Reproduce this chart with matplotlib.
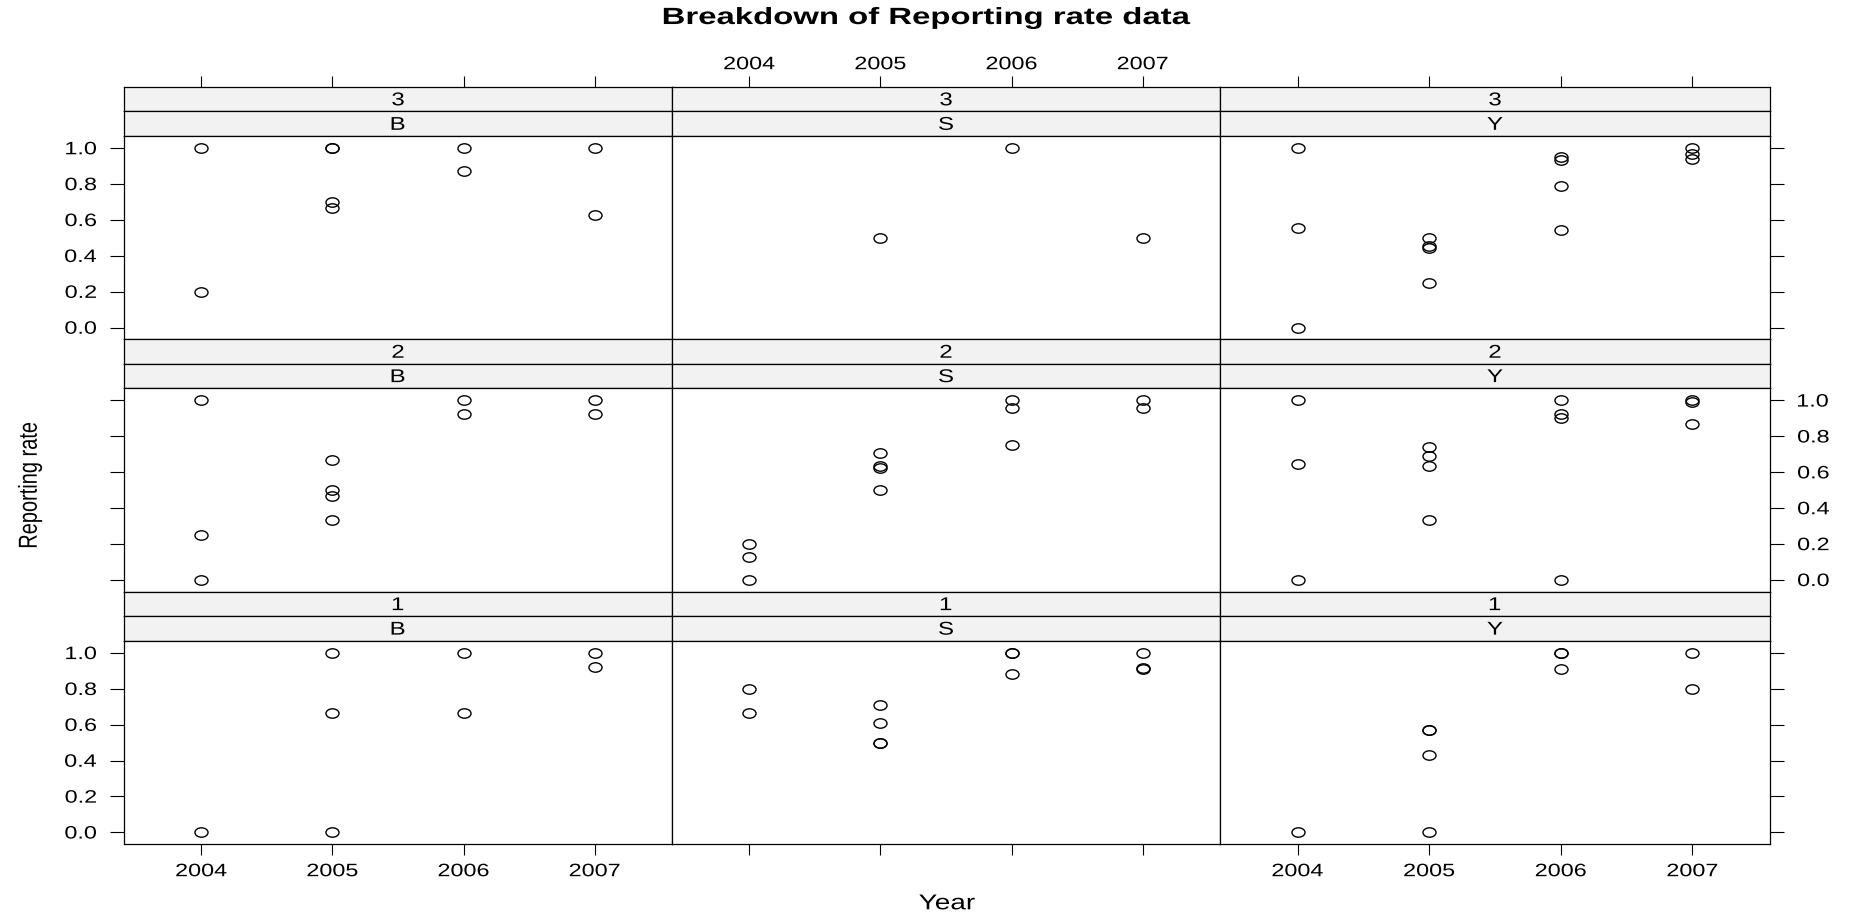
import matplotlib
matplotlib.use("Agg")
import matplotlib.pyplot as plt
from matplotlib.path import Path
from matplotlib.textpath import TextPath
from matplotlib.patches import PathPatch
from matplotlib.font_manager import FontProperties
from matplotlib.transforms import Affine2D
import numpy as np

plt.rcParams['font.family'] = ['Liberation Sans', 'DejaVu Sans']

# group 3 (top row)
yr_3B = [2004, 2004, 2005, 2005, 2005, 2005, 2006, 2006, 2007, 2007]
rr_3B = [1.0, 0.2, 1.0, 1.0, 0.70, 0.667, 1.0, 0.875, 1.0, 0.625]
yr_3S = [2005, 2006, 2007]
rr_3S = [0.5, 1.0, 0.5]
yr_3Y = [2004, 2004, 2004, 2005, 2005, 2005, 2005, 2006, 2006, 2006, 2006, 2007, 2007, 2007]
rr_3Y = [1.0, 0.556, 0.0, 0.5, 0.455, 0.444, 0.25, 0.95, 0.933, 0.786, 0.545, 1.0, 0.968, 0.938]

# group 2 (middle row)
yr_2B = [2004, 2004, 2004, 2005, 2005, 2005, 2005, 2006, 2006, 2007, 2007]
rr_2B = [1.0, 0.25, 0.0, 0.667, 0.5, 0.467, 0.333, 1.0, 0.923, 1.0, 0.923]
yr_2S = [2004, 2004, 2004, 2005, 2005, 2005, 2005, 2006, 2006, 2006, 2007, 2007]
rr_2S = [0.2, 0.125, 0.0, 0.706, 0.636, 0.625, 0.5, 1.0, 0.96, 0.75, 1.0, 0.955]
yr_2Y = [2004, 2004, 2004, 2005, 2005, 2005, 2005, 2006, 2006, 2006, 2006, 2007, 2007, 2007]
rr_2Y = [1.0, 0.647, 0.0, 0.74, 0.692, 0.633, 0.333, 1.0, 0.926, 0.9, 0.0, 1.0, 0.99, 0.871]

# group 1 (bottom row)
yr_1B = [2004, 2005, 2005, 2005, 2006, 2006, 2007, 2007]
rr_1B = [0.0, 1.0, 0.667, 0.0, 1.0, 0.667, 1.0, 0.923]
yr_1S = [2004, 2004, 2005, 2005, 2005, 2005, 2006, 2006, 2006, 2007, 2007, 2007]
rr_1S = [0.8, 0.667, 0.708, 0.611, 0.5, 0.5, 1.0, 1.0, 0.882, 1.0, 0.917, 0.909]
yr_1Y = [2004, 2005, 2005, 2005, 2005, 2006, 2006, 2006, 2007, 2007]
rr_1Y = [0.0, 0.571, 0.571, 0.429, 0.0, 1.0, 1.0, 0.909, 1.0, 0.8]

groups = ["3", "2", "1"]
sites = ["B", "S", "Y"]
panels = [[(yr_3B, rr_3B), (yr_3S, rr_3S), (yr_3Y, rr_3Y)],
          [(yr_2B, rr_2B), (yr_2S, rr_2S), (yr_2Y, rr_2Y)],
          [(yr_1B, rr_1B), (yr_1S, rr_1S), (yr_1Y, rr_1Y)]]
years = [2004, 2005, 2006, 2007]
yticks = [0.0, 0.2, 0.4, 0.6, 0.8, 1.0]

W, H = 1854, 915
fig = plt.figure(figsize=(W / 100, H / 100), dpi=100)
SX = 1.3  # the original picture is stretched sideways, text included

def box(x0, y0, x1, y1):
    return [x0 / W, 1 - y1 / H, (x1 - x0) / W, (y1 - y0) / H]

def stext(x, y, s, size, ha="center", weight="normal", rot=0, sx=SX):
    # x, y: pixels, y measured from the top; text widened by sx
    fp = FontProperties(family="Liberation Sans", weight=weight)
    tp = TextPath((0, 0), s, size=size, prop=fp)
    bb = tp.get_extents()
    dy = -(bb.y0 + bb.y1) / 2
    if ha == "center":
        dx = -(bb.x0 + bb.x1) / 2
    elif ha == "right":
        dx = -bb.x1
    else:
        dx = -bb.x0
    tr = Affine2D().translate(dx, dy).rotate_deg(rot).scale(sx, 1).translate(x, H - y)
    fig.add_artist(PathPatch(tp, transform=tr, facecolor="black", edgecolor="none", lw=0))

# slightly flattened open circle, like the original
circ = Path.unit_circle()
oval = Path(circ.vertices * np.array([1.0, 0.72]), circ.codes)

col_x = [124, 672, 1220, 1770]
row_top = [86.7, 339, 591.5]
strip_h = 24.5
row_h = 252.5
xlim = (2003.41, 2007.59)
ylim = (-0.065, 1.069)
lw = 0.9
strip_col = "#f2f2f2"
fs_tick = 18
fs_strip = 18.5

for i in range(3):
    for j in range(3):
        x0, x1 = col_x[j], col_x[j + 1]
        t = row_top[i]
        # strips
        s1 = fig.add_axes(box(x0, t, x1, t + strip_h))
        s2 = fig.add_axes(box(x0, t + strip_h, x1, t + 2 * strip_h))
        for s, lab, yc in [(s1, groups[i], t + strip_h / 2), (s2, sites[j], t + 1.5 * strip_h)]:
            s.set_facecolor(strip_col)
            s.set_xlim(xlim)
            s.set_xticks([])
            s.set_yticks([])
            for sp in s.spines.values():
                sp.set_linewidth(lw)
            stext((x0 + x1) / 2, yc, lab, fs_strip)
        ax = fig.add_axes(box(x0, t + 2 * strip_h, x1, t + row_h))
        yr, rr = panels[i][j]
        ax.plot(yr, rr, linestyle="none", marker=oval, markersize=9.4,
                markerfacecolor="none", markeredgecolor="black", markeredgewidth=1.0)
        ax.set_xlim(xlim)
        ax.set_ylim(ylim)
        for sp in ax.spines.values():
            sp.set_linewidth(lw)

        # y ticks on the outer sides only
        ax.set_yticks(yticks)
        ax.tick_params(axis="y", direction="out", length=10, width=0.8,
                       left=(j == 0), right=(j == 2), labelleft=False, labelright=False)
        if (j == 0 and i != 1) or (j == 2 and i == 1):
            for v in yticks:
                py = H - ax.transData.transform((xlim[0], v))[1]
                if j == 0:
                    stext(col_x[0] - 28, py, "%.1f" % v, fs_tick, ha="right")
                else:
                    stext(col_x[3] + 28, py, "%.1f" % v, fs_tick, ha="left")

        # x ticks: bottom row below, top row above the strips
        ax.set_xticks(years)
        ax.tick_params(axis="x", direction="out", length=8, width=0.8,
                       bottom=(i == 2), top=False, labelbottom=False, labeltop=False)
        if i == 2 and j != 1:
            for y in years:
                px = ax.transData.transform((y, 0))[0]
                stext(px, 870, str(y), fs_tick)
        if i == 0:
            s1.set_xticks(years)
            s1.tick_params(axis="x", direction="out", length=8, width=0.8,
                           bottom=False, top=True, labelbottom=False, labeltop=False)
            if j == 1:
                for y in years:
                    px = s1.transData.transform((y, 0))[0]
                    stext(px, 63, str(y), fs_tick)

stext(W / 2, 18, "Breakdown of Reporting rate data", 23.5, weight="bold", sx=1.4)
stext(947, 902, "Year", 21.5)
stext(30, 485, "Reporting rate", 20, rot=90)

fig.savefig("out.png", dpi=100)
